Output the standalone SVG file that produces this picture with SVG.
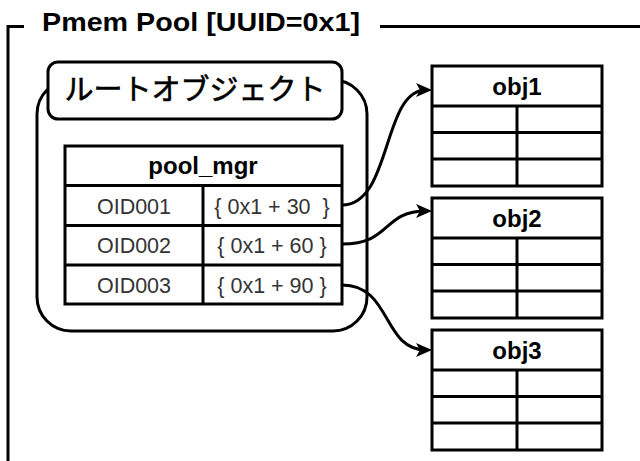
<svg xmlns="http://www.w3.org/2000/svg" width="640" height="461" viewBox="0 0 640 461">
<style>
.ln{fill:none;stroke:#000;stroke-width:3}
.box{fill:#fff;stroke:#000;stroke-width:3}
.t{font-family:"Liberation Sans",Arial,sans-serif;text-anchor:middle}
.b{font-weight:bold;fill:#000;font-size:24px}
.r{fill:#333;font-size:21.5px;white-space:pre}
</style>
<defs>
<marker id="ah" viewBox="0 0 16 14" refX="10" refY="7" markerWidth="16" markerHeight="14" markerUnits="userSpaceOnUse" orient="auto">
<path d="M0,0 L16,7 L0,14 L4,7 Z" fill="#000"/>
</marker>
</defs>
<rect width="640" height="461" fill="#fff"/>
<g id="pool">
<path class="ln" d="M8,461 L8,26.5 L24,26.5 M380,26.5 L640,26.5"/>
<text x="42" y="31" font-size="26" font-weight="bold" font-family="'Liberation Sans',Arial,sans-serif" textLength="318" lengthAdjust="spacingAndGlyphs" fill="#000">Pmem Pool [UUID=0x1]</text>
</g>
<g id="root">
<rect class="box" x="37" y="80" width="330" height="251" rx="34"/>
<rect class="box" x="48" y="62" width="294" height="57" rx="10"/>
<text x="195" y="100" font-size="29" font-family="'Noto Sans CJK JP',sans-serif" text-anchor="middle" fill="#000" stroke="#000" stroke-width="0.6">ルートオブジェクト</text>
</g>
<g id="pool_mgr">
<rect class="box" x="65" y="146" width="277" height="158"/>
<path class="ln" d="M65,185.5 H342 M65,225.5 H342 M65,265 H342 M203,185.5 V304"/>
<text class="t b" x="203" y="173.5">pool_mgr</text>
<text class="t r" x="134" y="213.5">OID001</text>
<text class="t r" x="134" y="253">OID002</text>
<text class="t r" x="134" y="292.5">OID003</text>
<text class="t r" x="272" y="213.5">{ 0x1 + 30  }</text>
<text class="t r" x="272" y="253">{ 0x1 + 60 }</text>
<text class="t r" x="272" y="292.5">{ 0x1 + 90 }</text>
</g>
<g id="obj1">
<rect class="box" x="432" y="66" width="170" height="120"/>
<path class="ln" d="M432,106 H602 M432,132.5 H602 M432,159 H602 M517,106 V186"/>
<text class="t b" x="517" y="94.5">obj1</text>
</g>
<g id="obj2">
<rect class="box" x="432" y="198" width="170" height="120"/>
<path class="ln" d="M432,238 H602 M432,264.5 H602 M432,291 H602 M517,238 V318"/>
<text class="t b" x="517" y="226.5">obj2</text>
</g>
<g id="obj3">
<rect class="box" x="432" y="330" width="170" height="120"/>
<path class="ln" d="M432,370 H602 M432,396.5 H602 M432,423 H602 M517,370 V450"/>
<text class="t b" x="517" y="358.5">obj3</text>
</g>
<g id="connectors">
<path class="ln" d="M342,205 C392,205 382,90 426,90" marker-end="url(#ah)"/>
<path class="ln" d="M342,244 C392,244 382,211 426,211" marker-end="url(#ah)"/>
<path class="ln" d="M342,285 C392,285 382,350 426,350" marker-end="url(#ah)"/>
</g>
</svg>
